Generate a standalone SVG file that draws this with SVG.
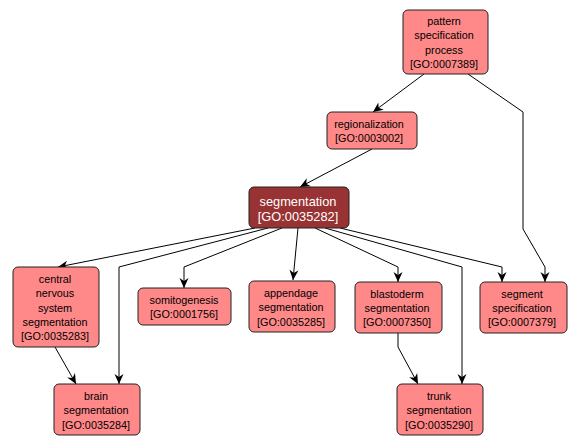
<svg xmlns="http://www.w3.org/2000/svg" width="580" height="446" viewBox="0 0 580 446">
<style>
.n rect{fill:#ff8888;stroke:#222;stroke-width:1}
.n text{font-family:"Liberation Sans",Arial,sans-serif;font-size:10.8px;fill:#000;text-anchor:middle}
#segmentation rect{fill:#993333}
#segmentation text{fill:#fff;font-size:12.8px}
.e path{fill:none;stroke:#000;stroke-width:1;marker-end:url(#arr)}
</style>
<defs>
<marker id="arr" markerUnits="userSpaceOnUse" markerWidth="10" markerHeight="10" refX="10" refY="5" orient="auto" viewBox="0 0 10 10">
<path d="M0,0.5 L10,5 L0,9.5 L3,5 z" fill="#000"/>
</marker>
</defs>
<rect width="580" height="446" fill="#fff"/>
<g id="connectors" class="e">
<path d="M424,74 L373,112"/>
<path d="M468,74 L523,112 L523,229 L545,267 L545,282"/>
<path d="M372,149 L300,187"/>
<path d="M255,228 L58,267"/>
<path d="M268,228 L119,267 L119,384"/>
<path d="M282,228 L184,267 L184,288"/>
<path d="M298,228 L293,280"/>
<path d="M315,228 L398,267 L398,282"/>
<path d="M325,228 L462,267 L462,384"/>
<path d="M340,228 L502,267 L502,282"/>
<path d="M55,347 L76,384"/>
<path d="M398,333 L398,347 L418,384"/>
</g>
<g id="pattern" class="n">
<rect x="403" y="10" width="85" height="64" rx="5"/>
<text x="444" y="25">pattern</text>
<text x="444" y="39.3">specification</text>
<text x="444" y="53.6">process</text>
<text x="444" y="67.9">[GO:0007389]</text>
</g>
<g id="regionalization" class="n">
<rect x="327" y="112" width="90" height="37" rx="5"/>
<text x="369" y="128">regionalization</text>
<text x="369" y="142">[GO:0003002]</text>
</g>
<g id="segmentation" class="n">
<rect x="249" y="187" width="100" height="41" rx="5"/>
<text x="298" y="206">segmentation</text>
<text x="298" y="220.5">[GO:0035282]</text>
</g>
<g id="cns" class="n">
<rect x="13" y="267" width="86" height="80" rx="5"/>
<text x="55" y="283">central</text>
<text x="55" y="297.3">nervous</text>
<text x="55" y="311.6">system</text>
<text x="55" y="325.9">segmentation</text>
<text x="55" y="340.2">[GO:0035283]</text>
</g>
<g id="somitogenesis" class="n">
<rect x="138" y="288" width="93" height="37" rx="5"/>
<text x="184" y="304">somitogenesis</text>
<text x="184" y="318">[GO:0001756]</text>
</g>
<g id="appendage" class="n">
<rect x="249" y="281" width="86" height="51" rx="5"/>
<text x="291" y="297">appendage</text>
<text x="291" y="311.3">segmentation</text>
<text x="291" y="325.6">[GO:0035285]</text>
</g>
<g id="blastoderm" class="n">
<rect x="355" y="282" width="87" height="51" rx="5"/>
<text x="397" y="297.5">blastoderm</text>
<text x="397" y="311.8">segmentation</text>
<text x="397" y="326.1">[GO:0007350]</text>
</g>
<g id="segspec" class="n">
<rect x="480" y="282" width="87" height="51" rx="5"/>
<text x="522" y="297.5">segment</text>
<text x="522" y="311.8">specification</text>
<text x="522" y="326.1">[GO:0007379]</text>
</g>
<g id="brain" class="n">
<rect x="54" y="384" width="86" height="51" rx="5"/>
<text x="96" y="400">brain</text>
<text x="96" y="414.3">segmentation</text>
<text x="96" y="428.6">[GO:0035284]</text>
</g>
<g id="trunk" class="n">
<rect x="397" y="384" width="86" height="51" rx="5"/>
<text x="439" y="400">trunk</text>
<text x="439" y="414.3">segmentation</text>
<text x="439" y="428.6">[GO:0035290]</text>
</g>
</svg>
